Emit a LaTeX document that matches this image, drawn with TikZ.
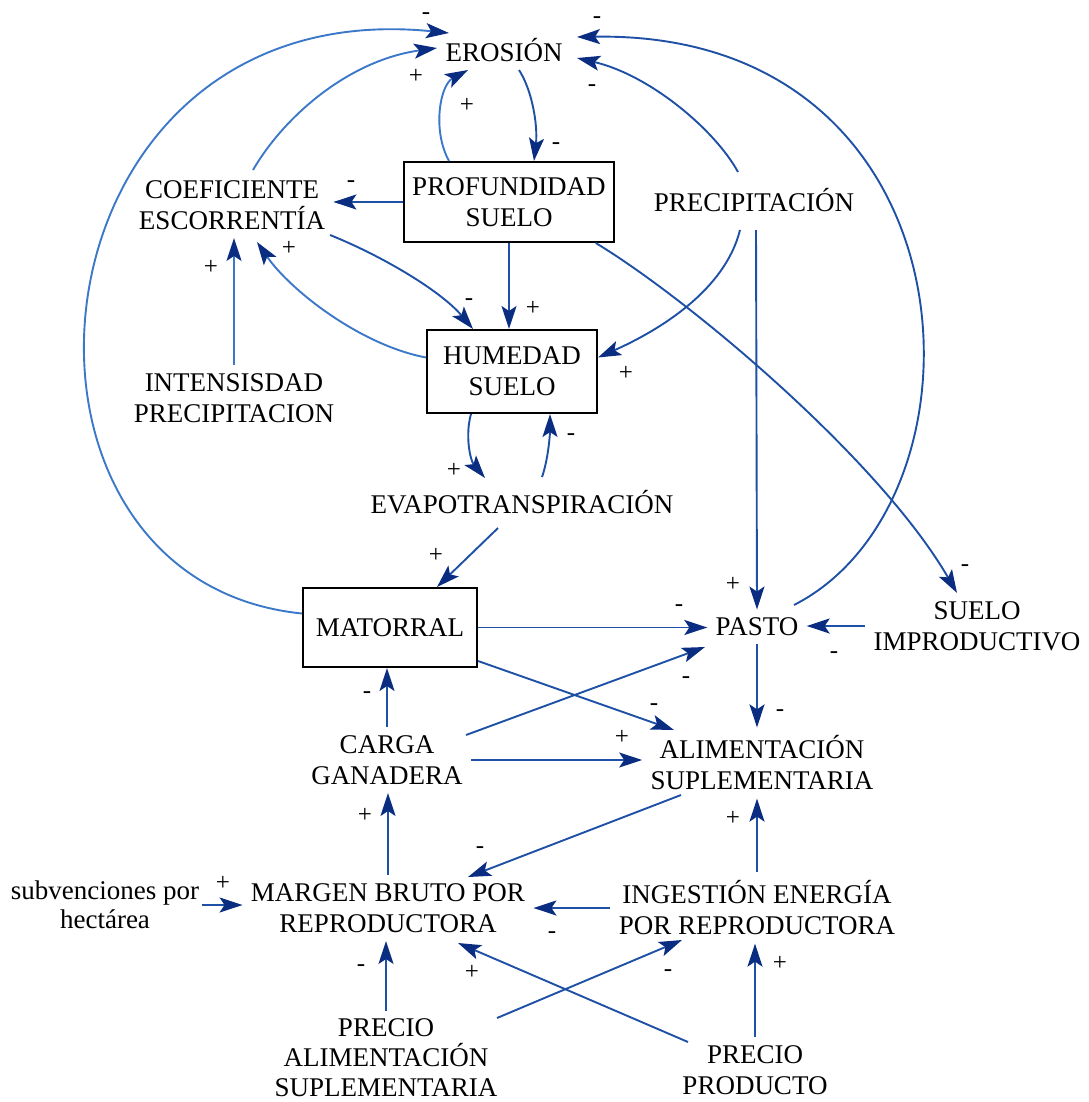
\documentclass[tikz,border=0pt]{standalone}
\usepackage{fontspec}
\setmainfont{Liberation Serif}
\usetikzlibrary{arrows.meta, calc}
\definecolor{linkblue}{RGB}{30, 80, 165}
\definecolor{linklight}{RGB}{60, 120, 200}
\definecolor{tipblue}{RGB}{10, 45, 130}

\begin{document}
\begin{tikzpicture}[x=0.5pt, y=-0.5pt,
  var/.style={font=\fontsize{13.5}{15.5}\selectfont, align=center, inner sep=4pt},
  stock/.style={var, draw, line width=1pt},
  link/.style={draw=linkblue, line width=0.95pt, -{Stealth[length=11.5pt, width=7.5pt, inset=2.5pt, color=tipblue]}},
  softlink/.style={link, draw=linklight},
  sgn/.style={font=\fontsize{12.5}{12.5}\selectfont, inner sep=0pt}]
  \useasboundingbox (0,0) rectangle (1088,1102);

  % Soil and water
  \node[var] (eros) at (504,50) {EROSIÓN};
  \node[stock, minimum width=104pt, minimum height=40pt] (prof) at (509,202) {PROFUNDIDAD\\SUELO};
  \node[var] (coef) at (232,205) {COEFICIENTE\\ESCORRENTÍA};
  \node[var] (precip) at (754,200) {PRECIPITACIÓN};
  \node[stock, minimum width=85pt, minimum height=41.5pt] (hum) at (512,371.5) {HUMEDAD\\SUELO};
  \node[var] (intens) at (234,398) {INTENSISDAD\\PRECIPITACION};
  \node[var] (evapo) at (522,502) {EVAPOTRANSPIRACIÓN};

  % Vegetation and herd
  \node[stock, minimum width=87pt, minimum height=39.5pt] (mat) at (390,627.5) {MATORRAL};
  \node[var] (pasto) at (757,627) {PASTO};
  \node[var] (suelo) at (977,626) {SUELO\\IMPRODUCTIVO};
  \node[var] (carga) at (387,760) {CARGA\\GANADERA};
  \node[var] (alim) at (762,763) {ALIMENTACIÓN\\SUPLEMENTARIA};

  % Economics
  \node[var, inner sep=1pt, font=\fontsize{13.5}{14.5}\selectfont] (subv) at (105,905) {subvenciones por\\hectárea};
  \node[var] (margen) at (388,908) {MARGEN BRUTO POR\\REPRODUCTORA};
  \node[var] (ingest) at (757,908) {INGESTIÓN ENERGÍA\\POR REPRODUCTORA};
  \node[var, font=\fontsize{13.5}{15}\selectfont] (palim) at (386,1058) {PRECIO\\ALIMENTACIÓN\\SUPLEMENTARIA};
  \node[var] (pprod) at (755,1070) {PRECIO\\PRODUCTO};

  % Links into EROSION
  \draw[softlink] ($(mat.west)+(0,-14)$) .. controls (-30,580) and (20,-10) .. ($(eros)+(-55,-17)$);
  \draw[softlink] ($(coef)+(21,-35)$) .. controls (285,115) and (350,60) .. ($(eros)+(-67,-2)$);
  \draw[softlink] ($(prof.north)+(-60,0)$) .. controls (432,130) and (440,85) .. ($(eros)+(-36,20)$);
  \draw[link] ($(eros)+(15,20)$) .. controls (532,90) and (538,125) .. ($(prof.north)+(25,0)$);
  \draw[link] ($(precip)+(-16,-28)$) .. controls (715,130) and (650,75) .. ($(eros)+(73,8)$);
  \draw[link] ($(pasto)+(37,-22)$) .. controls (1000,500) and (980,30) .. ($(eros)+(73,-13)$);

  % Water links
  \draw[link] (prof.west) -- (prof.west -| coef.east);
  \draw[softlink] (intens.north) -- (intens.north |- coef.south);
  \draw[softlink] ($(hum.west)+(0,-14)$) .. controls (360,345) and (290,290) .. ($(coef)+(25,37)$);
  \draw[link] ($(coef)+(98,30)$) .. controls (380,255) and (440,290) .. ($(hum.north)+(-39,0)$);
  \draw[link] (prof.south) -- (prof.south |- hum.north);
  \draw[link] ($(precip)+(-14,30)$) .. controls (725,290) and (660,330) .. ($(hum.east)+(0,-14)$);
  \draw[link] ($(precip)+(2,30)$) -- (pasto.north);
  \draw[link] ($(prof.south east)+(-19,0)$) .. controls (690,300) and (880,460) .. ($(suelo.north)+(-20,0)$);
  \draw[link] ($(hum.south)+(-41,0)$) .. controls (465,435) and (470,460) .. ($(evapo)+(-37,-24)$);
  \draw[link] ($(evapo)+(20,-25)$) .. controls (548,460) and (550,435) .. ($(hum.south)+(38,0)$);
  \draw[link] ($(evapo)+(-24,26)$) -- ($(mat.north)+(47,0)$);

  % Grazing links
  \draw[link] (mat.east) -- (mat.east -| pasto.west);
  \draw[link] (suelo.west) -- (suelo.west -| pasto.east);
  \draw[link] ($(carga)+(79,-25)$) -- ($(pasto)+(-52,20)$);
  \draw[link] ($(mat.south east)+(0,-7)$) -- ($(alim)+(-88,-33)$);
  \draw[link] (pasto.south) -- (pasto.south |- alim.north);
  \draw[link] (carga.east) -- (carga.east -| alim.west);
  \draw[link] (carga.north) -- (carga.north |- mat.south);

  % Economic links
  \draw[link] ($(alim)+(-81,32)$) -- ($(margen)+(80,-31)$);
  \draw[link] (margen.north) -- (margen.north |- carga.south);
  \draw[link] (subv.east) -- (subv.east -| margen.west);
  \draw[link] (ingest.west) -- (ingest.west -| margen.east);
  \draw[link] (ingest.north) -- (ingest.north |- alim.south);
  \draw[link] (palim.north) -- (palim.north |- margen.south);
  \draw[link] ($(palim)+(111,-40)$) -- ($(ingest)+(-75,32)$);
  \draw[link] ($(pprod)+(-67,-28)$) -- ($(margen)+(70,35)$);
  \draw[link] (pprod.north) -- (pprod.north |- ingest.south);

  % Polarity signs
  \foreach \x/\y/\s [count=\i] in {426/16/-, 416/76/+, 467/105/+, 556/146/-, 597/20/-, 592/88/-,
      351/184/-, 211/267/+, 289/248/+, 469/302/-, 533/308/+, 626/373/+, 454/470/+, 571/437/-,
      436/555/+, 733/584/+, 965/568/-, 679/608/-, 834/655/-, 686/680/-, 367/695/-, 654/707/-,
      780/713/-, 622/737/+, 365/815/+, 480/850/-, 733/818/+, 223/883/+, 552/935/-, 361/968/-,
      472/972/+, 668/973/-, 780/963/+}
    \node[sgn] (sg\i) at (\x,\y) {\s};
\end{tikzpicture}
\end{document}
